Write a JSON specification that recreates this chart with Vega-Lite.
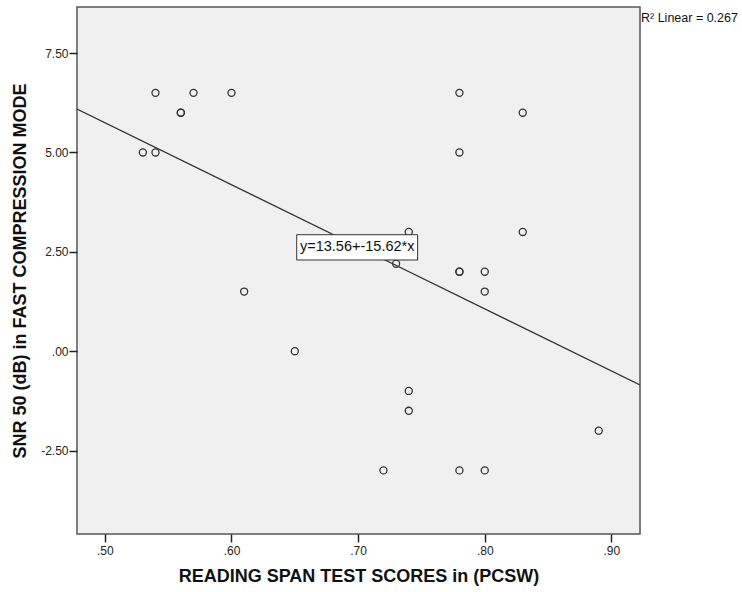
{
  "$schema": "https://vega.github.io/schema/vega-lite/v6.json",
  "width": 563,
  "height": 527,
  "autosize": "none",
  "padding": {"left": 77, "top": 7, "right": 102, "bottom": 58},
  "background": "white",
  "config": {
    "font": "Liberation Sans",
    "view": {"fill": "#f0f0f0", "stroke": "#555555", "strokeWidth": 1.5},
    "axis": {
      "domain": false,
      "grid": false,
      "tickColor": "#222222",
      "tickSize": 8,
      "tickWidth": 1.5,
      "labelFont": "Liberation Sans",
      "labelFontSize": 12,
      "labelColor": "#222222",
      "titleFont": "Liberation Sans",
      "titleFontSize": 18,
      "titleFontWeight": "bold",
      "titleColor": "#111111"
    }
  },
  "datasets": {
    "points": [
      {"span": 0.53, "snr": 5.0},
      {"span": 0.54, "snr": 5.0},
      {"span": 0.54, "snr": 6.5},
      {"span": 0.56, "snr": 6.0},
      {"span": 0.56, "snr": 6.0},
      {"span": 0.57, "snr": 6.5},
      {"span": 0.60, "snr": 6.5},
      {"span": 0.61, "snr": 1.5},
      {"span": 0.65, "snr": 0.0},
      {"span": 0.72, "snr": -3.0},
      {"span": 0.73, "snr": 2.2},
      {"span": 0.74, "snr": 3.0},
      {"span": 0.74, "snr": -1.0},
      {"span": 0.74, "snr": -1.5},
      {"span": 0.78, "snr": 6.5},
      {"span": 0.78, "snr": 5.0},
      {"span": 0.78, "snr": 2.0},
      {"span": 0.78, "snr": 2.0},
      {"span": 0.78, "snr": -3.0},
      {"span": 0.80, "snr": 2.0},
      {"span": 0.80, "snr": 1.5},
      {"span": 0.80, "snr": -3.0},
      {"span": 0.83, "snr": 6.0},
      {"span": 0.83, "snr": 3.0},
      {"span": 0.89, "snr": -2.0}
    ],
    "fit": [
      {"span": 0.478, "snr": 6.094},
      {"span": 0.9226, "snr": -0.851}
    ],
    "eqbox": [
      {"x1": 0.6515, "x2": 0.747, "y1": 2.294, "y2": 2.93, "xc": 0.6993, "yc": 2.61, "label": "y=13.56+-15.62*x"}
    ],
    "r2": [
      {"span": 0.9226, "snr": 8.29, "label": "R² Linear = 0.267"}
    ]
  },
  "layer": [
    {
      "data": {"name": "fit"},
      "mark": {"type": "line", "color": "#333333", "strokeWidth": 1.2, "clip": true},
      "encoding": {
        "x": {
          "field": "span", "type": "quantitative",
          "scale": {"domain": [0.478, 0.9226], "nice": false, "zero": false},
          "axis": {
            "values": [0.5, 0.6, 0.7, 0.8, 0.9],
            "labelExpr": "replace(format(datum.value, '.2f'), '0.', '.')",
            "labelPadding": 3,
            "title": "READING SPAN TEST SCORES in (PCSW)",
            "titlePadding": 11
          }
        },
        "y": {
          "field": "snr", "type": "quantitative",
          "scale": {"domain": [-4.6, 8.66], "nice": false, "zero": false},
          "axis": {
            "values": [-2.5, 0, 2.5, 5, 7.5],
            "labelExpr": "replace(replace(format(datum.value, '.2f'), '0.', '.'), '\u2212', '-')",
            "labelPadding": 1,
            "title": "SNR 50 (dB) in FAST COMPRESSION MODE",
            "titlePadding": 11
          }
        }
      }
    },
    {
      "data": {"name": "points"},
      "mark": {"type": "point", "shape": "circle", "filled": false, "size": 50, "stroke": "#333333", "strokeWidth": 1.3, "opacity": 1},
      "encoding": {
        "x": {"field": "span", "type": "quantitative"},
        "y": {"field": "snr", "type": "quantitative"}
      }
    },
    {
      "data": {"name": "eqbox"},
      "mark": {"type": "rect", "fill": "white", "stroke": "#333333", "strokeWidth": 1},
      "encoding": {
        "x": {"field": "x1", "type": "quantitative"},
        "x2": {"field": "x2"},
        "y": {"field": "y1", "type": "quantitative"},
        "y2": {"field": "y2"}
      }
    },
    {
      "data": {"name": "eqbox"},
      "mark": {"type": "text", "font": "Liberation Sans", "fontSize": 14.5, "color": "#111111", "align": "center", "baseline": "middle"},
      "encoding": {
        "x": {"field": "xc", "type": "quantitative"},
        "y": {"field": "yc", "type": "quantitative"},
        "text": {"field": "label"}
      }
    },
    {
      "data": {"name": "r2"},
      "mark": {"type": "text", "font": "Liberation Sans", "fontSize": 12.5, "color": "#111111", "align": "left", "baseline": "alphabetic", "dx": 1},
      "encoding": {
        "x": {"field": "span", "type": "quantitative"},
        "y": {"field": "snr", "type": "quantitative"},
        "text": {"field": "label"}
      }
    }
  ]
}
